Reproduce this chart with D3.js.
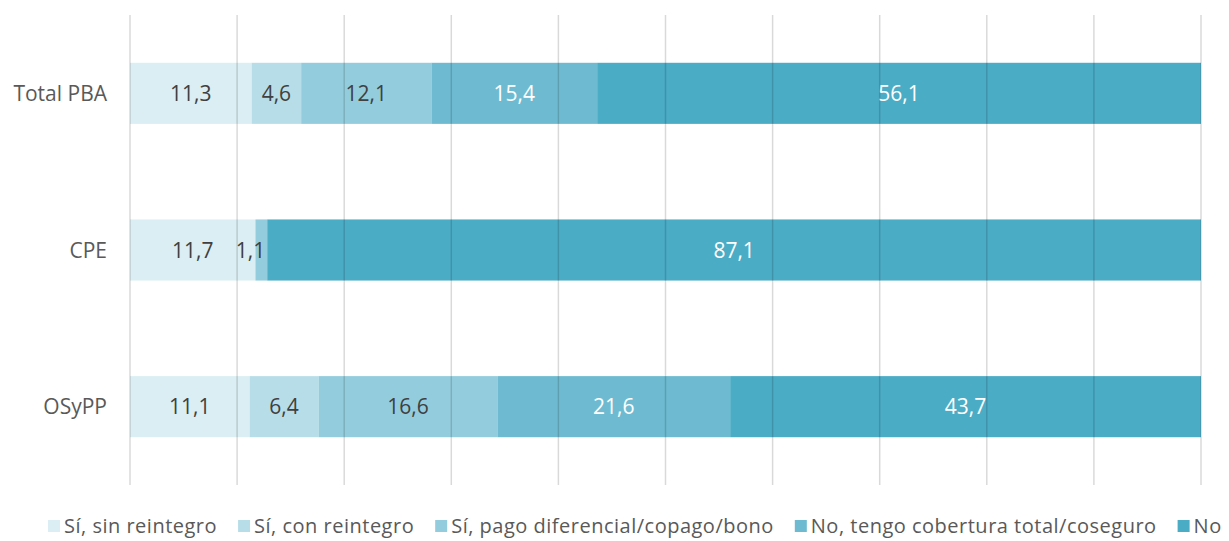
<!DOCTYPE html>
<html><head><meta charset="utf-8">
<script src="https://cdn.jsdelivr.net/npm/d3@7/dist/d3.min.js"></script>
<style>body{margin:0;background:#fff}svg{display:block}</style>
</head><body>
<svg id="c" width="1229" height="541"></svg>
<script>
const categories = ["Total PBA", "CPE", "OSyPP"];
const seriesNames = ["Sí, sin reintegro", "Sí, con reintegro", "Sí, pago diferencial/copago/bono", "No, tengo cobertura total/coseguro", "No"];
const sinReintegro = [11.3, 11.7, 11.1];
const conReintegro = [4.6, 0, 6.4];
const pagoDiferencial = [12.1, 1.1, 16.6];
const coberturaTotal = [15.4, 0, 21.6];
const noValues = [56.1, 87.1, 43.7];
const xTicks = [0, 10, 20, 30, 40, 50, 60, 70, 80, 90, 100];

const colors = ["#DBEEF3", "#B7DEE8", "#93CDDD", "#6EBBD1", "#4BACC6"];
const labelColors = ["#404040", "#404040", "#404040", "#ffffff", "#ffffff"];
const series = [sinReintegro, conReintegro, pagoDiferencial, coberturaTotal, noValues];

const svg = d3.select("#c");
const font = "'Open Sans', sans-serif";
const x = d3.scaleLinear().domain([0, 100]).range([130, 1201]);
const y = d3.scaleBand().domain(categories).range([15, 485]).paddingInner(0.61).paddingOuter(0.305);

// normalized stacked data (100% stacked)
const rows = categories.map((c, i) => {
  const vals = series.map(s => s[i]);
  const tot = d3.sum(vals);
  let acc = 0;
  return vals.map((v, k) => { const s0 = acc; acc += v / tot * 100; return {cat: c, k, v, x0: s0, x1: acc}; });
});

const g = svg.append("g");
rows.forEach(r => {
  r.forEach(d => {
    if (d.v <= 0) return;
    g.append("rect").attr("x", x(d.x0)).attr("y", y(d.cat))
      .attr("width", x(d.x1) - x(d.x0)).attr("height", y.bandwidth())
      .attr("fill", colors[d.k]);
  });
});

// gridlines on top, translucent
svg.append("g").selectAll("line").data(xTicks).join("line")
  .attr("x1", d => x(d)).attr("x2", d => x(d)).attr("y1", 15).attr("y2", 485)
  .attr("stroke", "#000").attr("stroke-opacity", 0.15).attr("stroke-width", 1.5);

// labels
rows.forEach(r => {
  r.forEach(d => {
    if (d.v <= 0) return;
    const t = svg.append("text")
      .attr("y", y(d.cat) + y.bandwidth() / 2).attr("dy", "0.36em")
      .attr("font-family", font).attr("font-size", 21)
      .attr("fill", labelColors[d.k])
      .text(d3.format(".1f")(d.v).replace(".", ","));
    const w = t.node().getComputedTextLength();
    const segW = x(d.x1) - x(d.x0);
    if (w > segW) {
      t.attr("x", x(d.x1) - 2).attr("text-anchor", "end");
    } else {
      t.attr("x", (x(d.x0) + x(d.x1)) / 2).attr("text-anchor", "middle");
    }
  });
});

// y axis labels
svg.append("g").selectAll("text").data(categories).join("text")
  .attr("x", 107).attr("y", d => y(d) + y.bandwidth() / 2).attr("dy", "0.36em")
  .attr("text-anchor", "end").attr("font-family", font).attr("font-size", 21)
  .attr("fill", "#595959").text(d => d);

// legend
const lg = svg.append("g");
let lx = 48;
const ly = 533;
seriesNames.forEach((n, i) => {
  lg.append("rect").attr("x", lx).attr("y", ly - 13).attr("width", 12).attr("height", 12).attr("fill", colors[i]);
  const t = lg.append("text").attr("x", lx + 16).attr("y", ly).attr("font-family", font)
    .attr("font-size", 20).attr("fill", "#595959").attr("letter-spacing", "0.5px").text(n);
  lx += 16 + t.node().getComputedTextLength() + 21;
});
</script>
</body></html>
